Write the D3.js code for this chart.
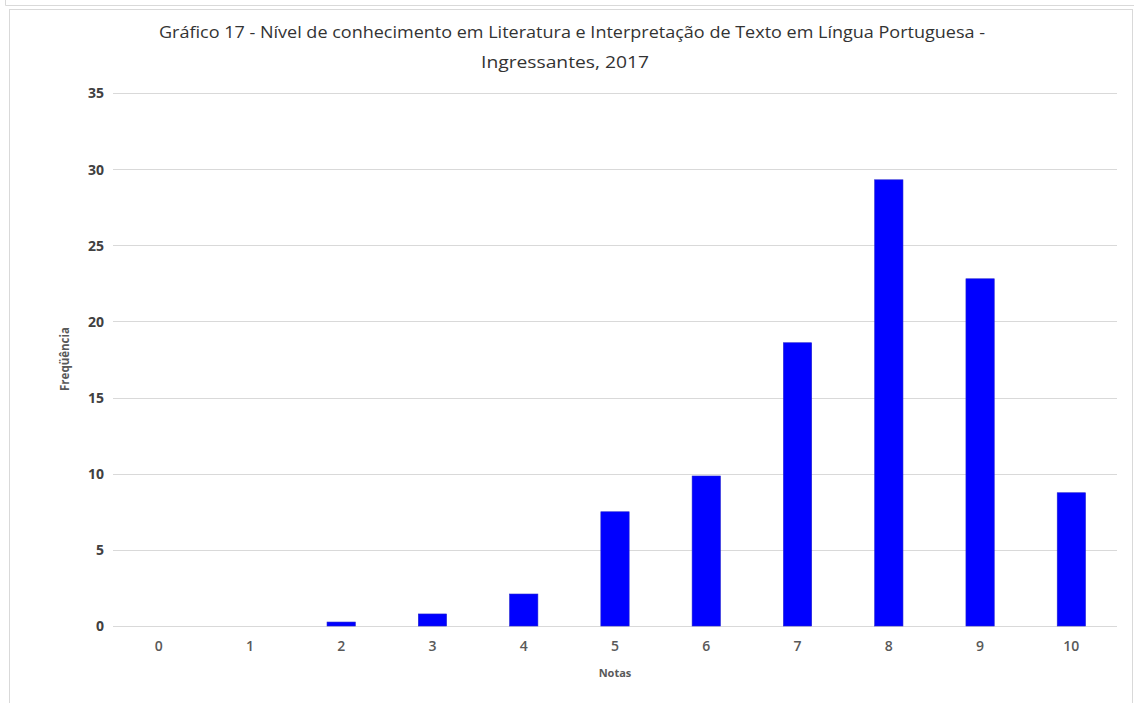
<!DOCTYPE html>
<html><head><meta charset="utf-8">
<script src="https://cdn.jsdelivr.net/npm/d3@7"></script>
<style>body{margin:0;background:#fff}svg{display:block}</style>
</head><body>
<svg id="c" width="1134" height="703"></svg>
<script>
const categories = ["0","1","2","3","4","5","6","7","8","9","10"];
const values = [0, 0, 0.26, 0.79, 2.1, 7.5, 9.85, 18.6, 29.3, 22.8, 8.75];
const yTicks = [0,5,10,15,20,25,30,35];
const titleLines = ["Gráfico 17 - Nível de conhecimento em Literatura e Interpretação de Texto em Língua Portuguesa -", "Ingressantes, 2017"];
const xLabel = "Notas", yLabel = "Freqüência";

const svg = d3.select("#c");
const m = {l:113, r:1117, t:93, b:626};
const font = "'Open Sans', 'DejaVu Sans', sans-serif";

// frames
svg.append("path").attr("d","M5.5,0 V5.5 H1134").attr("fill","none").attr("stroke","#d9d9d9").attr("stroke-width",1);
svg.append("rect").attr("x",9.5).attr("y",9.5).attr("width",1123).attr("height",710)
  .attr("fill","#fff").attr("stroke","#d9d9d9").attr("stroke-width",1);

const x = d3.scaleBand().domain(categories).range([m.l, m.r]).paddingInner(0.69).paddingOuter(0.345);
const y = d3.scaleLinear().domain([0,35]).range([m.b, m.t]);

// grid
svg.append("g").selectAll("line").data(yTicks).join("line")
  .attr("x1",m.l).attr("x2",m.r).attr("y1",d=>Math.round(y(d))+0.5).attr("y2",d=>Math.round(y(d))+0.5)
  .attr("stroke","#d9d9d9").attr("stroke-width",1);

// y axis labels
const ya = svg.append("g").attr("transform",`translate(${m.l-9},0)`)
  .call(d3.axisLeft(y).tickValues(yTicks).tickSize(0).tickPadding(0));
ya.select(".domain").remove();
ya.selectAll("text").attr("font-family",font).attr("font-size",14).attr("font-weight","bold").attr("fill","#404040").attr("dy","0.35em");

// x axis labels
const xa = svg.append("g").attr("transform",`translate(0,${m.b})`)
  .call(d3.axisBottom(x).tickSize(0).tickPadding(15));
xa.select(".domain").remove();
xa.selectAll("text").attr("font-family",font).attr("font-size",14).attr("fill","#595959").attr("font-weight","600");

// bars
svg.append("g").selectAll("rect").data(values).join("rect")
  .attr("x",(d,i)=>x(categories[i])).attr("width",x.bandwidth())
  .attr("y",d=>y(d)).attr("height",d=>y(0)-y(d))
  .attr("fill","#0000ff").attr("stroke","#2020d0").attr("stroke-width",0.6);

// title
svg.append("text").attr("x",572).attr("y",38).attr("text-anchor","middle")
  .attr("font-family",font).attr("font-size",16).attr("fill","#333")
  .attr("textLength",826).attr("lengthAdjust","spacingAndGlyphs").text(titleLines[0]);
svg.append("text").attr("x",565).attr("y",68).attr("text-anchor","middle")
  .attr("font-family",font).attr("font-size",16).attr("fill","#333")
  .attr("textLength",168).attr("lengthAdjust","spacingAndGlyphs").text(titleLines[1]);

// axis titles
svg.append("text").attr("x",(m.l+m.r)/2).attr("y",677).attr("text-anchor","middle")
  .attr("font-family",font).attr("font-size",11).attr("font-weight","bold").attr("fill","#595959").text(xLabel);
svg.append("text").attr("transform","translate(69,359) rotate(-90)").attr("text-anchor","middle")
  .attr("font-family",font).attr("font-size",11.5).attr("font-weight","bold").attr("fill","#595959").text(yLabel);
</script>
</body></html>
